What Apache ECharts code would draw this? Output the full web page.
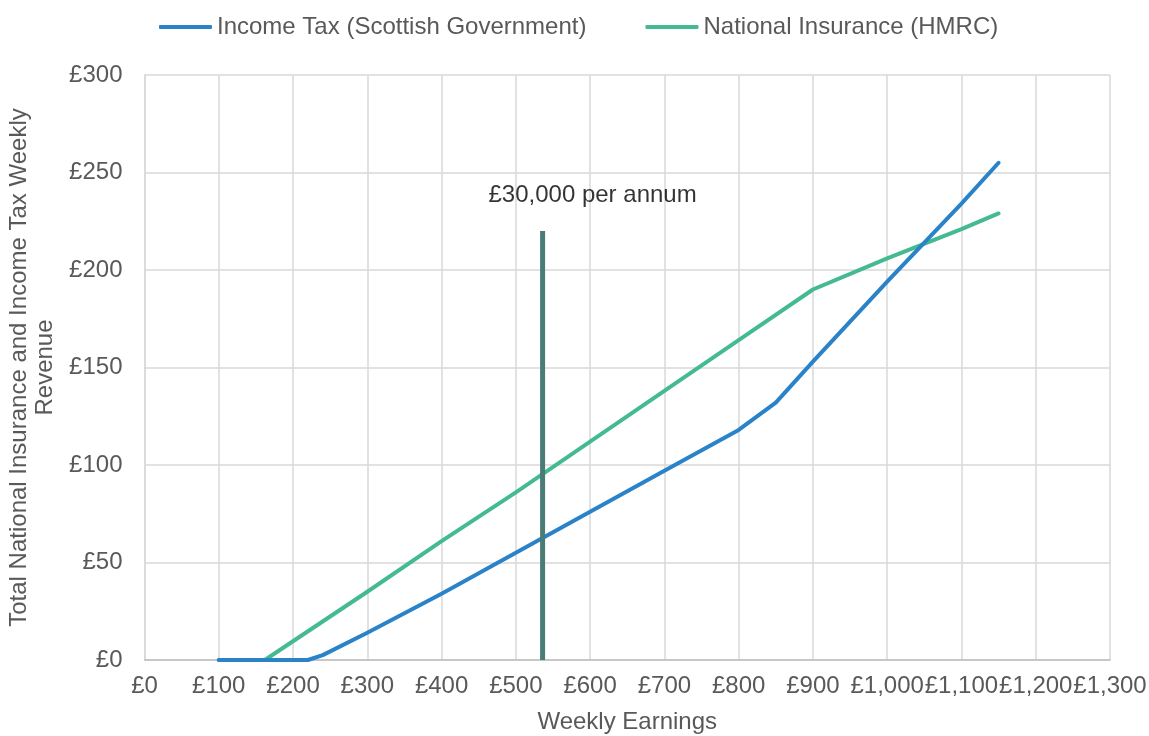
<!DOCTYPE html>
<html>
<head>
<meta charset="utf-8">
<script src="https://cdn.jsdelivr.net/npm/echarts@6/dist/echarts.min.js"></script>
<style>html,body{margin:0;padding:0;background:#fff}#c{width:1149px;height:736px}</style>
</head>
<body>
<div id="c"></div>
<script>
// Weekly earnings (£) and weekly revenue (£)
const incomeTaxEarnings = [100, 220, 240, 300, 400, 500, 600, 700, 800, 850, 900, 1000, 1100, 1150];
const incomeTaxValues   = [0,   0,   2.5, 14,  34,  55,  76,  97,  118, 132, 153, 194,  234,  255];
const niEarnings = [100, 162, 300, 400, 500, 600, 700, 800, 900, 1000, 1100, 1150];
const niValues   = [0,   0,   35,  61,  86,  112, 138, 164, 190, 206,  221,  229];
const markerEarnings = [536, 536];
const markerValues = [0, 220];
const markerLabel = '£30,000 per annum';
const seriesNames = ['Income Tax (Scottish Government)', 'National Insurance (HMRC)'];
const xTitle = 'Weekly Earnings';
const yTitle = 'Total National Insurance and Income Tax Weekly\nRevenue';

const pairs = (xs, ys) => xs.map((x, i) => [x, ys[i]]);
const money = v => '£' + v.toLocaleString('en-GB');
const FONT = '"Liberation Sans", Arial, sans-serif';
const grey = '#595959';

const chart = echarts.init(document.getElementById('c'));
chart.setOption({
  animation: false,
  textStyle: { fontFamily: FONT },
  legend: {
    data: seriesNames,
    top: 10, left: 154,
    itemWidth: 53, itemHeight: 4, itemGap: 59,
    icon: 'roundRect',
    textStyle: { fontSize: 24, color: grey, fontFamily: FONT }
  },
  grid: { left: 144.5, right: 39, top: 75, bottom: 76, containLabel: false, outerBoundsMode: 'none' },
  xAxis: {
    type: 'value', min: 0, max: 1300, interval: 100,
    name: xTitle, nameLocation: 'middle', nameGap: 50,
    nameTextStyle: { fontSize: 24, color: grey, fontFamily: FONT },
    axisLine: { show: true, lineStyle: { color: '#bfbfbf', width: 1.5 } },
    axisTick: { show: false },
    axisLabel: { fontSize: 24, color: grey, margin: 14, formatter: money, fontFamily: FONT },
    splitLine: { show: true, lineStyle: { color: '#d9d9d9', width: 1.5 } }
  },
  yAxis: {
    type: 'value', min: 0, max: 300, interval: 50,
    name: yTitle, nameLocation: 'middle', nameGap: 75,
    nameTextStyle: { fontSize: 24, color: grey, lineHeight: 26, fontFamily: FONT },
    axisLine: { show: true, lineStyle: { color: '#d9d9d9', width: 1.5 } },
    axisTick: { show: false },
    axisLabel: { fontSize: 24, color: grey, margin: 22, formatter: money, fontFamily: FONT },
    splitLine: { show: true, lineStyle: { color: '#d9d9d9', width: 1.5 } }
  },
  series: [
    {
      name: seriesNames[0], type: 'line', data: pairs(incomeTaxEarnings, incomeTaxValues),
      showSymbol: false, symbol: 'none', z: 3,
      itemStyle: { color: '#2a83c8' },
      lineStyle: { color: '#2a83c8', width: 4, cap: 'round', join: 'round' }
    },
    {
      name: seriesNames[1], type: 'line', data: pairs(niEarnings, niValues),
      showSymbol: false, symbol: 'none', z: 2,
      itemStyle: { color: '#43ba8f' },
      lineStyle: { color: '#43ba8f', width: 4, cap: 'round', join: 'round' }
    },
    {
      name: 'marker', type: 'line', z: 4,
      data: pairs(markerEarnings, markerValues),
      showSymbol: false, symbol: 'none',
      lineStyle: { color: '#4b7b77', width: 5 }
    },
    {
      name: 'markerLabel', type: 'scatter', z: 5,
      data: [[markerEarnings[1], markerValues[1]]],
      symbolSize: 1, itemStyle: { color: 'rgba(0,0,0,0)' },
      silent: true,
      label: { show: true, position: 'top', offset: [50, -18], formatter: markerLabel,
               fontSize: 24, color: '#000', fontFamily: FONT }
    }
  ]
});
</script>
</body>
</html>
